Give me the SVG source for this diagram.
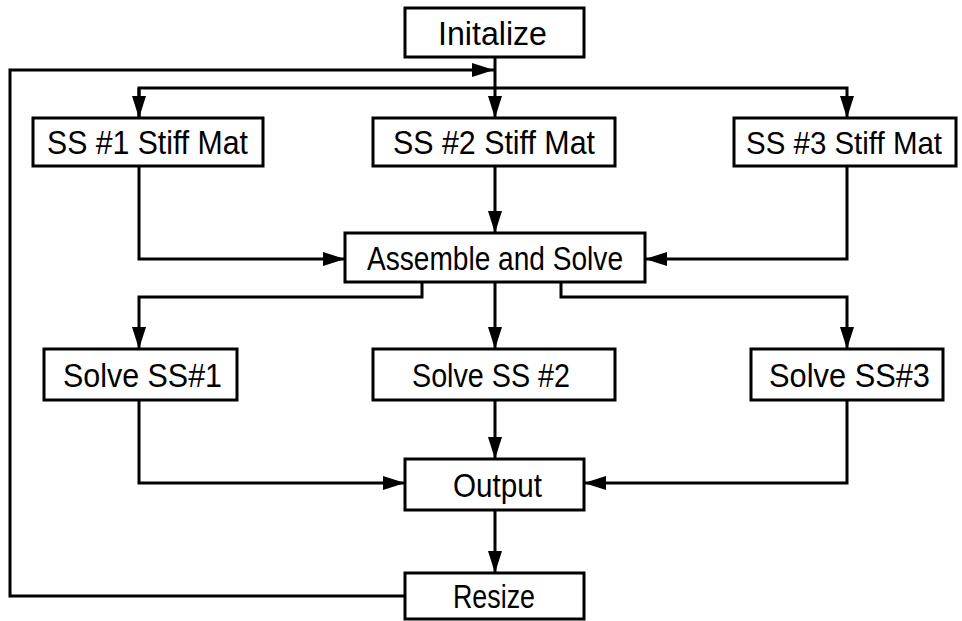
<svg xmlns="http://www.w3.org/2000/svg" width="962" height="621" viewBox="0 0 962 621">
<style>
.box{fill:#fff;stroke:#000;stroke-width:3}
.lbl{font-family:"Liberation Sans",Arial,sans-serif;font-size:34px;fill:#000;text-anchor:middle}
.sm{font-size:32px}
.conn{fill:none;stroke:#000;stroke-width:3}
</style>
<defs>
<marker id="ah" markerUnits="userSpaceOnUse" markerWidth="22" markerHeight="14" refX="22" refY="7" orient="auto">
<path d="M0,0 L22,7 L0,14 z" fill="#000"/>
</marker>
</defs>
<rect width="962" height="621" fill="#fff"/>
<g id="connectors">
<path class="conn" d="M405,596 H10 V70 H494" marker-end="url(#ah)"/>
<path class="conn" d="M495,57 V118" marker-end="url(#ah)"/>
<path class="conn" d="M139,118 V88 H847 V118" marker-end="url(#ah)"/>
<path class="conn" d="M139,88 V118" marker-end="url(#ah)"/>
<path class="conn" d="M139,166 V259 H345" marker-end="url(#ah)"/>
<path class="conn" d="M495,166 V233" marker-end="url(#ah)"/>
<path class="conn" d="M847,166 V259 H645" marker-end="url(#ah)"/>
<path class="conn" d="M422,282 V297 H139 V349" marker-end="url(#ah)"/>
<path class="conn" d="M495,282 V349" marker-end="url(#ah)"/>
<path class="conn" d="M561,282 V297 H847 V349" marker-end="url(#ah)"/>
<path class="conn" d="M139,400 V483 H405" marker-end="url(#ah)"/>
<path class="conn" d="M495,400 V459" marker-end="url(#ah)"/>
<path class="conn" d="M847,400 V483 H584" marker-end="url(#ah)"/>
<path class="conn" d="M495,510 V573" marker-end="url(#ah)"/>
</g>
<g id="initalize"><rect class="box" x="405" y="8" width="179" height="49"/><text class="lbl" x="492.5" y="44.5" textLength="109" lengthAdjust="spacingAndGlyphs">Initalize</text></g>
<g id="ss1stiff"><rect class="box" x="33" y="118" width="230" height="48"/><text class="lbl" x="147.5" y="154" textLength="201" lengthAdjust="spacingAndGlyphs">SS #1 Stiff Mat</text></g>
<g id="ss2stiff"><rect class="box" x="373" y="118" width="242" height="48"/><text class="lbl" x="494" y="154" textLength="202" lengthAdjust="spacingAndGlyphs">SS #2 Stiff Mat</text></g>
<g id="ss3stiff"><rect class="box" x="734" y="118" width="222" height="48"/><text class="lbl sm" x="844" y="153.5" textLength="196" lengthAdjust="spacingAndGlyphs">SS #3 Stiff Mat</text></g>
<g id="assemble"><rect class="box" x="345" y="233" width="300" height="49"/><text class="lbl" x="495" y="269.5" textLength="256" lengthAdjust="spacingAndGlyphs">Assemble and Solve</text></g>
<g id="solve1"><rect class="box" x="44" y="349" width="193" height="51"/><text class="lbl" x="142.5" y="387" textLength="159" lengthAdjust="spacingAndGlyphs">Solve SS#1</text></g>
<g id="solve2"><rect class="box" x="373" y="349" width="242" height="51"/><text class="lbl" x="491" y="387" textLength="158" lengthAdjust="spacingAndGlyphs">Solve SS #2</text></g>
<g id="solve3"><rect class="box" x="751" y="349" width="192" height="51"/><text class="lbl" x="849.5" y="387" textLength="161" lengthAdjust="spacingAndGlyphs">Solve SS#3</text></g>
<g id="output"><rect class="box" x="405" y="459" width="179" height="51"/><text class="lbl" x="497.5" y="497" textLength="89" lengthAdjust="spacingAndGlyphs">Output</text></g>
<g id="resize"><rect class="box" x="405" y="573" width="179" height="46"/><text class="lbl" x="494" y="608" textLength="82" lengthAdjust="spacingAndGlyphs">Resize</text></g>
</svg>
